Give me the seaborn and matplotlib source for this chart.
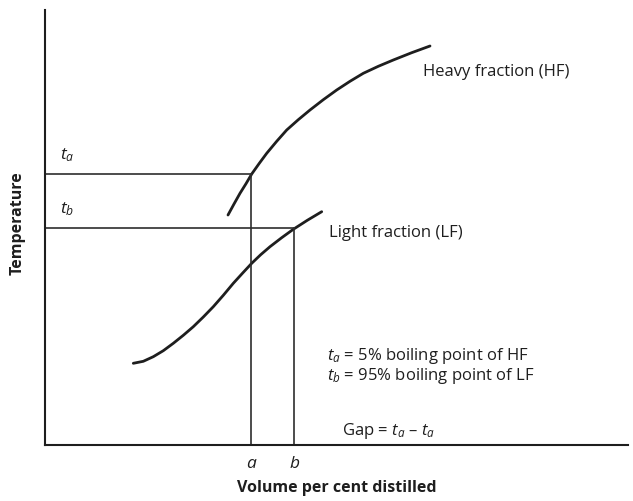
import seaborn as sns
import matplotlib.pyplot as plt
import pandas as pd

# curves (arbitrary units: volume distilled vs temperature)
hf_volume = [183, 189, 195, 201, 206.7, 214.3, 221.7, 231.7, 241.7, 253.3,
             265, 278.3, 291.7, 305, 318.3, 333.3, 348.3, 366.7, 385]
hf_temp = [230, 241, 251.7, 261.3, 271, 281.7, 291.7, 303.7, 315, 325.3,
           335, 345.3, 355, 363.7, 371.7, 378.7, 385, 392.3, 399]
lf_volume = [88.3, 98.3, 108.3, 118.3, 128.3, 138.3, 148.3, 158.3, 168.3, 178.3,
             188.3, 197.7, 206.7, 215.7, 225, 236.7, 248.3, 262.3, 276.7]
lf_temp = [81.7, 83.7, 88.3, 94.3, 101.7, 109.7, 118.3, 128, 138.3, 149.7,
           161.7, 172, 181.7, 190.3, 198.3, 207.3, 215.7, 224.7, 233.3]

vol_a = 206
vol_b = 249
temp_a = 271
temp_b = 217
tick_labels = ['a', 'b']

sns.set_style('white')
plt.rcParams['font.family'] = ['Open Sans', 'DejaVu Sans']
plt.rcParams['mathtext.fontset'] = 'custom'
plt.rcParams['mathtext.rm'] = 'Open Sans'
plt.rcParams['mathtext.it'] = 'Open Sans:italic'

ink = '#1e1e1e'

hf = pd.DataFrame({'volume': hf_volume, 'temp': hf_temp})
lf = pd.DataFrame({'volume': lf_volume, 'temp': lf_temp})

fig = plt.figure(figsize=(6.33, 5.01), dpi=100)
ax = fig.add_axes([45 / 633, 56 / 501, 583 / 633, 435 / 501])

sns.lineplot(data=hf, x='volume', y='temp', ax=ax, color=ink, linewidth=2.0,
             sort=False, solid_capstyle='round')
sns.lineplot(data=lf, x='volume', y='temp', ax=ax, color=ink, linewidth=2.0,
             sort=False, solid_capstyle='round')

# guide lines for ta / tb
ax.plot([0, vol_a], [temp_a, temp_a], color='#2e2e2e', lw=1.2)
ax.plot([vol_a, vol_a], [0, temp_a], color='#2e2e2e', lw=1.2)
ax.plot([0, vol_b], [temp_b, temp_b], color='#2e2e2e', lw=1.2)
ax.plot([vol_b, vol_b], [0, temp_b], color='#2e2e2e', lw=1.2)

ax.set_xlim(0, 583)
ax.set_ylim(0, 435)
sns.despine(ax=ax)
for s in ['left', 'bottom']:
    ax.spines[s].set_linewidth(1.5)
    ax.spines[s].set_color(ink)

ax.set_xticks([vol_a, vol_b])
ax.set_xticklabels(tick_labels, fontstyle='italic', fontsize=12.5, color=ink)
ax.tick_params(axis='x', length=0, pad=8)
ax.set_yticks([])

ax.set_xlabel('Volume per cent distilled', fontsize=11.5, fontweight='bold', color=ink, labelpad=6)
ax.set_ylabel('Temperature', fontsize=11.5, fontweight='bold', color=ink)
ax.yaxis.set_label_coords(-0.033, 0.51)

ax.text(15, 290, '$t_a$', fontsize=12.5, color=ink, va='center')
ax.text(15, 236, '$t_b$', fontsize=12.5, color=ink, va='center')

ax.text(378, 373, 'Heavy fraction (HF)', fontsize=12, color=ink, va='center')
ax.text(284, 212, 'Light fraction (LF)', fontsize=12, color=ink, va='center')

ax.text(282, 89, '$t_a$ = 5% boiling point of HF', fontsize=12, color=ink, va='center')
ax.text(282, 69, '$t_b$ = 95% boiling point of LF', fontsize=12, color=ink, va='center')
ax.text(297, 14, 'Gap = $t_a$ \u2013 $t_a$', fontsize=12, color=ink, va='center')

fig.savefig('out.png', dpi=100)
